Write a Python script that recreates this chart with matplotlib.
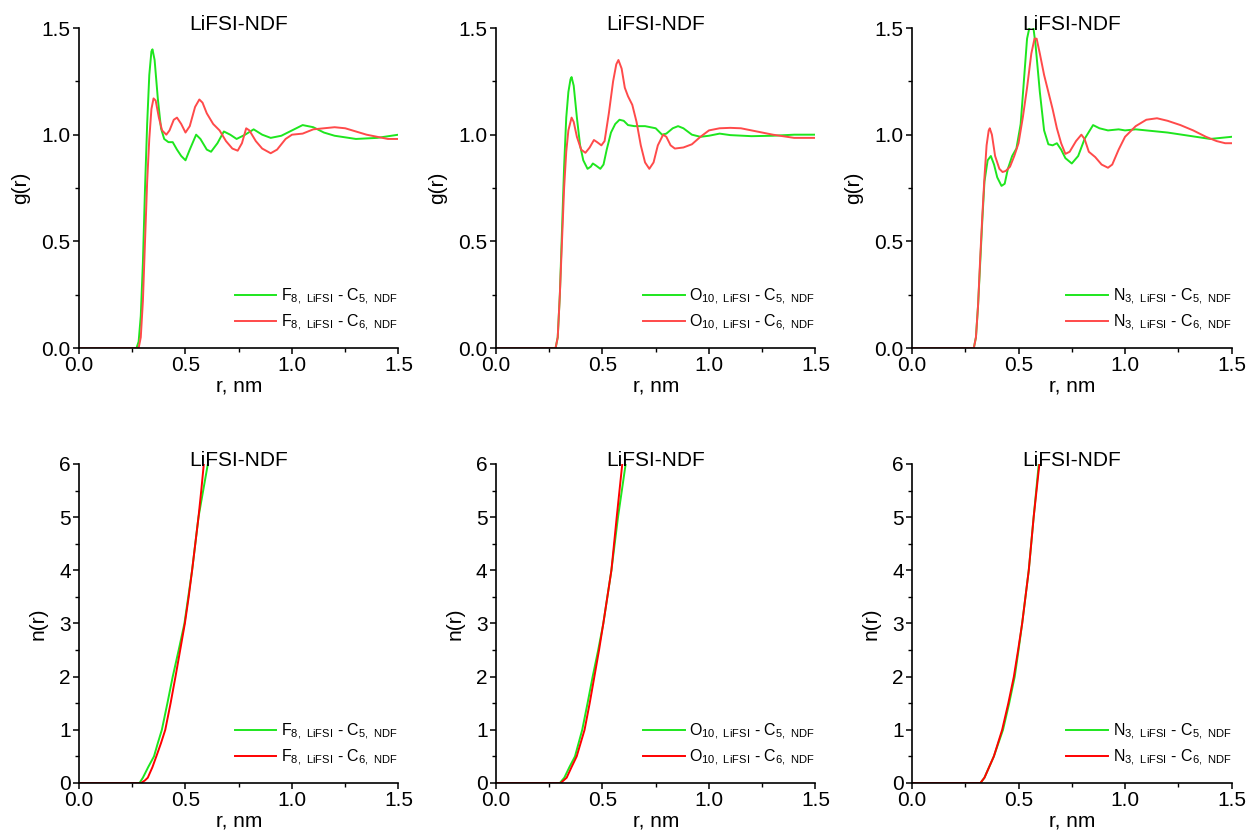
import numpy as np
import matplotlib
matplotlib.use("Agg")
import matplotlib.pyplot as plt
from matplotlib.ticker import MultipleLocator

plt.rcParams['font.family'] = ['Liberation Sans', 'DejaVu Sans']
plt.rcParams['mathtext.fontset'] = 'custom'
plt.rcParams['mathtext.rm'] = 'Liberation Sans'
plt.rcParams['mathtext.default'] = 'regular'

# ---- g(r), F8 ----
r_f8_c5 = [0.0, 0.270, 0.280, 0.290, 0.300, 0.310, 0.320, 0.330, 0.340, 0.345, 0.355, 0.370, 0.385, 0.400,
           0.420, 0.440, 0.460, 0.480, 0.500, 0.520, 0.550, 0.570, 0.600, 0.620, 0.650, 0.680, 0.710,
           0.740, 0.780, 0.820, 0.860, 0.900, 0.950, 1.000, 1.050, 1.100, 1.150, 1.200, 1.300, 1.400, 1.500]
g_f8_c5 = [0.0, 0.0, 0.03, 0.15, 0.40, 0.75, 1.05, 1.28, 1.39, 1.40, 1.35, 1.17, 1.03, 0.98,
           0.965, 0.965, 0.93, 0.90, 0.88, 0.93, 1.00, 0.98, 0.93, 0.92, 0.96, 1.015, 1.00,
           0.98, 1.00, 1.025, 1.00, 0.985, 0.995, 1.02, 1.045, 1.035, 1.01, 0.995, 0.98, 0.985, 1.00]
r_f8_c6 = [0.0, 0.280, 0.290, 0.300, 0.310, 0.320, 0.330, 0.340, 0.350, 0.360, 0.375, 0.390, 0.410, 0.425,
           0.445, 0.460, 0.480, 0.500, 0.520, 0.545, 0.565, 0.580, 0.600, 0.630, 0.660, 0.690, 0.720,
           0.745, 0.765, 0.785, 0.800, 0.830, 0.860, 0.900, 0.930, 0.970, 1.000, 1.050, 1.100, 1.150,
           1.200, 1.250, 1.300, 1.350, 1.400, 1.450, 1.500]
g_f8_c6 = [0.0, 0.0, 0.05, 0.22, 0.50, 0.78, 0.98, 1.12, 1.17, 1.16, 1.08, 1.02, 1.00, 1.02,
           1.07, 1.08, 1.05, 1.01, 1.04, 1.13, 1.165, 1.15, 1.10, 1.05, 1.02, 0.97, 0.935,
           0.925, 0.96, 1.03, 1.02, 0.97, 0.935, 0.913, 0.93, 0.98, 1.00, 1.005, 1.025, 1.03,
           1.035, 1.03, 1.015, 1.00, 0.99, 0.98, 0.98]

# ---- g(r), O10 ----
r_o10_c5 = [0.0, 0.280, 0.290, 0.300, 0.310, 0.320, 0.330, 0.340, 0.350, 0.355, 0.365, 0.380, 0.395, 0.410,
            0.430, 0.445, 0.455, 0.470, 0.490, 0.505, 0.520, 0.540, 0.560, 0.580, 0.600, 0.620, 0.650,
            0.700, 0.750, 0.780, 0.800, 0.830, 0.855, 0.880, 0.920, 0.960, 1.000, 1.050, 1.100, 1.200,
            1.300, 1.400, 1.500]
g_o10_c5 = [0.0, 0.0, 0.05, 0.25, 0.55, 0.85, 1.08, 1.20, 1.26, 1.27, 1.23, 1.08, 0.95, 0.88,
            0.84, 0.85, 0.865, 0.855, 0.84, 0.86, 0.93, 1.01, 1.05, 1.07, 1.065, 1.045, 1.04,
            1.04, 1.03, 1.00, 1.005, 1.03, 1.04, 1.03, 1.00, 0.99, 0.995, 1.005, 0.998, 0.993,
            0.995, 1.00, 1.00]
r_o10_c6 = [0.0, 0.280, 0.290, 0.300, 0.310, 0.320, 0.330, 0.340, 0.355, 0.365, 0.380, 0.400, 0.420, 0.440,
            0.460, 0.475, 0.495, 0.510, 0.530, 0.550, 0.565, 0.575, 0.590, 0.605, 0.620, 0.640, 0.660,
            0.680, 0.700, 0.720, 0.740, 0.760, 0.785, 0.800, 0.820, 0.840, 0.880, 0.920, 0.960, 1.000,
            1.050, 1.100, 1.150, 1.200, 1.300, 1.400, 1.500]
g_o10_c6 = [0.0, 0.0, 0.05, 0.25, 0.50, 0.75, 0.92, 1.02, 1.08, 1.06, 0.99, 0.93, 0.915, 0.94,
            0.975, 0.965, 0.95, 0.97, 1.10, 1.25, 1.33, 1.35, 1.31, 1.22, 1.18, 1.14, 1.06,
            0.95, 0.87, 0.84, 0.87, 0.95, 1.00, 0.99, 0.95, 0.935, 0.94, 0.955, 0.99, 1.02,
            1.03, 1.032, 1.03, 1.02, 1.00, 0.985, 0.985]

# ---- g(r), N3 ----
r_n3_c5 = [0.0, 0.290, 0.300, 0.310, 0.320, 0.330, 0.340, 0.355, 0.370, 0.385, 0.400, 0.420, 0.435, 0.450,
           0.470, 0.490, 0.510, 0.525, 0.540, 0.555, 0.570, 0.580, 0.600, 0.620, 0.640, 0.660, 0.680,
           0.700, 0.720, 0.750, 0.780, 0.810, 0.850, 0.880, 0.920, 0.970, 1.000, 1.050, 1.100, 1.200,
           1.300, 1.400, 1.450, 1.500]
g_n3_c5 = [0.0, 0.0, 0.05, 0.20, 0.40, 0.60, 0.78, 0.88, 0.90, 0.86, 0.80, 0.76, 0.77, 0.84,
           0.90, 0.935, 1.05, 1.25, 1.45, 1.52, 1.50, 1.42, 1.20, 1.02, 0.955, 0.95, 0.96,
           0.93, 0.89, 0.865, 0.90, 0.98, 1.045, 1.03, 1.02, 1.025, 1.02, 1.025, 1.02, 1.01,
           0.995, 0.98, 0.985, 0.99]
r_n3_c6 = [0.0, 0.290, 0.300, 0.310, 0.320, 0.330, 0.340, 0.350, 0.360, 0.365, 0.375, 0.390, 0.410, 0.425,
           0.440, 0.460, 0.480, 0.500, 0.520, 0.540, 0.560, 0.575, 0.585, 0.600, 0.620, 0.640, 0.660,
           0.680, 0.700, 0.720, 0.740, 0.770, 0.795, 0.810, 0.830, 0.860, 0.890, 0.920, 0.940, 0.970,
           1.000, 1.050, 1.100, 1.150, 1.200, 1.260, 1.320, 1.380, 1.430, 1.470, 1.500]
g_n3_c6 = [0.0, 0.0, 0.05, 0.20, 0.42, 0.62, 0.80, 0.95, 1.02, 1.03, 1.00, 0.90, 0.84, 0.825,
           0.83, 0.85, 0.90, 0.96, 1.08, 1.22, 1.38, 1.45, 1.45, 1.38, 1.28, 1.20, 1.12,
           1.03, 0.96, 0.91, 0.92, 0.97, 1.00, 0.98, 0.92, 0.895, 0.86, 0.845, 0.86, 0.93,
           0.99, 1.04, 1.07, 1.077, 1.065, 1.045, 1.02, 0.99, 0.97, 0.96, 0.96]

# ---- n(r) ----
r_n_f8_c5 = [0.0, 0.284, 0.300, 0.325, 0.352, 0.370, 0.389, 0.415, 0.440, 0.468, 0.495, 0.513, 0.531,
             0.546, 0.561, 0.583, 0.605, 0.615]
n_f8_c5 = [0.0, 0.0, 0.1, 0.3, 0.5, 0.75, 1.0, 1.5, 2.0, 2.5, 3.0, 3.5, 4.0, 4.5, 5.0, 5.5, 6.0, 6.3]
r_n_f8_c6 = [0.0, 0.292, 0.310, 0.323, 0.345, 0.363, 0.385, 0.405, 0.430, 0.453, 0.475, 0.497, 0.515,
             0.531, 0.546, 0.561, 0.574, 0.586, 0.595]
n_f8_c6 = [0.0, 0.0, 0.05, 0.1, 0.3, 0.5, 0.75, 1.0, 1.5, 2.0, 2.5, 3.0, 3.5, 4.0, 4.5, 5.0, 5.5, 6.0, 6.4]

r_n_o10_c5 = [0.0, 0.300, 0.321, 0.345, 0.371, 0.405, 0.430, 0.454, 0.480, 0.504, 0.542, 0.573, 0.609, 0.620]
n_o10_c5 = [0.0, 0.0, 0.1, 0.3, 0.5, 1.0, 1.5, 2.0, 2.5, 3.0, 4.0, 5.0, 6.0, 6.3]
r_n_o10_c6 = [0.0, 0.304, 0.332, 0.355, 0.379, 0.416, 0.440, 0.462, 0.484, 0.504, 0.542, 0.567, 0.593, 0.602]
n_o10_c6 = [0.0, 0.0, 0.1, 0.3, 0.5, 1.0, 1.5, 2.0, 2.5, 3.0, 4.0, 5.0, 6.0, 6.3]

r_n_n3_c5 = [0.0, 0.321, 0.340, 0.362, 0.384, 0.427, 0.456, 0.482, 0.500, 0.517, 0.548, 0.571, 0.595, 0.605]
n_n3_c5 = [0.0, 0.0, 0.1, 0.3, 0.5, 1.0, 1.5, 2.0, 2.5, 3.0, 4.0, 5.0, 6.0, 6.3]
r_n_n3_c6 = [0.0, 0.321, 0.340, 0.362, 0.384, 0.423, 0.452, 0.478, 0.498, 0.517, 0.548, 0.571, 0.598, 0.607]
n_n3_c6 = [0.0, 0.0, 0.1, 0.3, 0.5, 1.0, 1.5, 2.0, 2.5, 3.0, 4.0, 5.0, 6.0, 6.3]

atoms = ['F$_{8,\\ LiFSI}$', 'O$_{10,\\ LiFSI}$', 'N$_{3,\\ LiFSI}$']
lab_c5 = ' - C$_{5,\\ NDF}$'
lab_c6 = ' - C$_{6,\\ NDF}$'

top_data = [(r_f8_c5, g_f8_c5, r_f8_c6, g_f8_c6),
            (r_o10_c5, g_o10_c5, r_o10_c6, g_o10_c6),
            (r_n3_c5, g_n3_c5, r_n3_c6, g_n3_c6)]
bot_data = [(r_n_f8_c5, n_f8_c5, r_n_f8_c6, n_f8_c6),
            (r_n_o10_c5, n_o10_c5, r_n_o10_c6, n_o10_c6),
            (r_n_n3_c5, n_n3_c5, r_n_n3_c6, n_n3_c6)]

green = '#1ee61e'
red_light = '#ff4a4a'
red = '#ff0000'

fig = plt.figure(figsize=(12.48, 8.36), dpi=100)
lefts = [0.0633, 0.3974, 0.7308]
width = 0.2560


def style(ax, ymax, ymajor, yminor, ylab):
    for s in ['top', 'right']:
        ax.spines[s].set_visible(False)
    for s in ['left', 'bottom']:
        ax.spines[s].set_linewidth(1.2)
    ax.set_xlim(0, 1.5)
    ax.set_ylim(0, ymax)
    ax.xaxis.set_major_locator(MultipleLocator(0.5))
    ax.xaxis.set_minor_locator(MultipleLocator(0.25))
    ax.yaxis.set_major_locator(MultipleLocator(ymajor))
    ax.yaxis.set_minor_locator(MultipleLocator(yminor))
    ax.tick_params(which='major', direction='out', length=4, width=1.1, labelsize=15, pad=2)
    ax.tick_params(which='minor', direction='out', length=3, width=1.0)
    ax.set_xlabel('r, nm', fontsize=15, labelpad=1)
    ax.set_ylabel(ylab, fontsize=15, labelpad=8)
    ax.text(0.5, 1.011, 'LiFSI-NDF', transform=ax.transAxes, ha='center', va='center', fontsize=15)
    ax.legend(loc='lower right', bbox_to_anchor=(1.02, 0.028), frameon=False, fontsize=11.5,
              handlelength=2.6, handletextpad=0.3, labelspacing=0.35, borderaxespad=0)


for i in range(3):
    ax = fig.add_axes([lefts[i], 0.5837, width, 0.3828])
    r1, y1, r2, y2 = top_data[i]
    ax.plot(r1, y1, color=green, lw=1.4, label=atoms[i] + lab_c5)
    ax.plot(r2, y2, color=red_light, lw=1.4, label=atoms[i] + lab_c6)
    style(ax, 1.5, 0.5, 0.25, 'g(r)')

    ax = fig.add_axes([lefts[i], 0.0634, width, 0.3816])
    r1, y1, r2, y2 = bot_data[i]
    ax.plot(r1, y1, color=green, lw=1.4, label=atoms[i] + lab_c5)
    ax.plot(r2, y2, color=red, lw=1.4, label=atoms[i] + lab_c6)
    style(ax, 6, 1, 0.5, 'n(r)')

fig.savefig('out.png', dpi=100)
